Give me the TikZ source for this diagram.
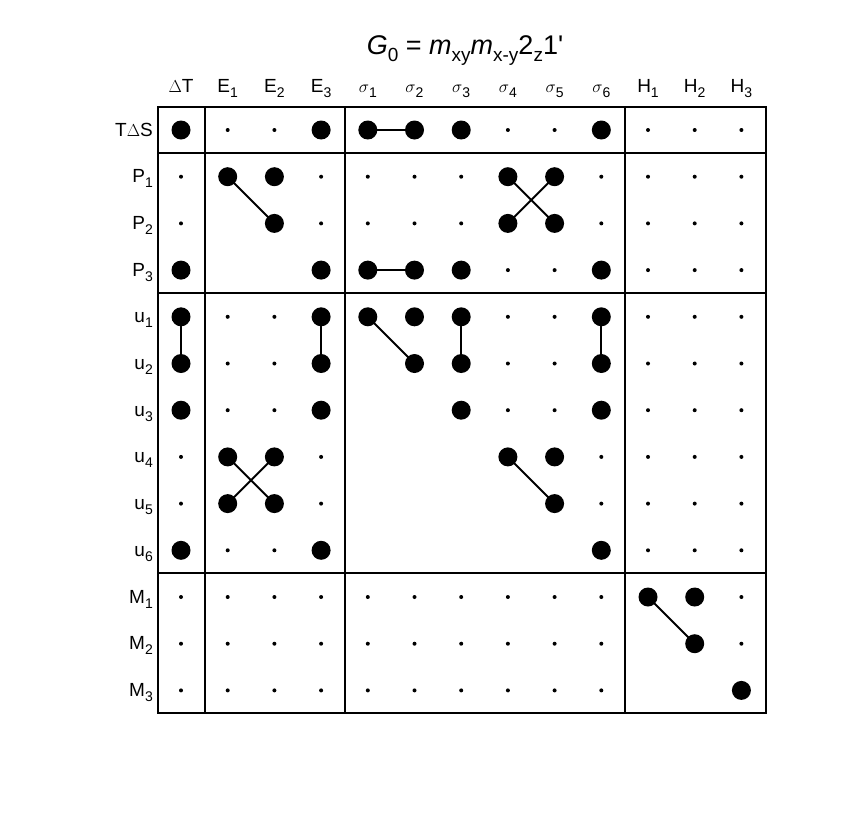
\documentclass[tikz,border=0pt]{standalone}
\usepackage{fontspec}
\setmainfont{Liberation Sans}
\newcommand{\sbx}[1]{\raisebox{-0.5ex}{\fontsize{14}{14}\selectfont #1}}
\newcommand{\sgm}[1]{$\sigma$\sbx{#1}}
\begin{document}
\begin{tikzpicture}[x=1pt,y=-1pt,
  big/.style={circle,fill=black,inner sep=0pt,minimum size=19pt},
  small/.style={circle,fill=black,inner sep=0pt,minimum size=4pt},
  lab/.style={font=\fontsize{19}{20}\selectfont,inner sep=0pt},
  conn/.style={line width=2pt},
  frame/.style={line width=2.5pt}]
\useasboundingbox (0,0) rectangle (856,812);
\node[font=\fontsize{27}{30}\selectfont,anchor=base] (title) at (465,54) {\textit{G}\raisebox{-0.5ex}{\fontsize{19}{19}\selectfont 0} = \textit{m}\raisebox{-0.5ex}{\fontsize{19}{19}\selectfont xy}\textit{m}\raisebox{-0.5ex}{\fontsize{19}{19}\selectfont x-y}2\raisebox{-0.5ex}{\fontsize{19}{19}\selectfont z}1\textquotesingle};
% grid coordinates
\foreach \r in {0,...,12}{\foreach \c in {0,...,12}{
  \coordinate (p-\r-\c) at ({181+46.7*\c},{130+46.7*\r});}}
% column labels
\foreach \t [count=\i from 0] in {$\Delta$T,E\sbx{1},E\sbx{2},E\sbx{3},\sgm{1},\sgm{2},\sgm{3},\sgm{4},\sgm{5},\sgm{6},H\sbx{1},H\sbx{2},H\sbx{3}}
  \node[lab,anchor=base] (col\i) at ({181+46.7*\i},92) {\t};
% row labels
\foreach \t [count=\i from 0] in {T$\Delta$S,P\sbx{1},P\sbx{2},P\sbx{3},u\sbx{1},u\sbx{2},u\sbx{3},u\sbx{4},u\sbx{5},u\sbx{6},M\sbx{1},M\sbx{2},M\sbx{3}}
  \node[lab,anchor=base east] (row\i) at (153,{136+46.7*\i}) {\t};
% frame
\draw[frame] (158,107) rectangle (766,713);
\draw[frame] (205,107) -- (205,713) (345,107) -- (345,713) (625,107) -- (625,713);
\draw[frame] (158,153) -- (766,153) (158,293) -- (766,293) (158,573) -- (766,573);
% connectors
\foreach \a/\b in {0-4/0-5,1-1/2-2,1-7/2-8,1-8/2-7,3-4/3-5,4-0/5-0,4-3/5-3,4-4/5-5,4-6/5-6,4-9/5-9,7-1/8-2,7-2/8-1,7-7/8-8,10-10/11-11}
  \draw[conn] (p-\a) -- (p-\b);
% dots
\foreach \row [count=\r from 0] in {
 {B,s,s,B,B,B,B,s,s,B,s,s,s},
 {s,B,B,s,s,s,s,B,B,s,s,s,s},
 {s,n,B,s,s,s,s,B,B,s,s,s,s},
 {B,n,n,B,B,B,B,s,s,B,s,s,s},
 {B,s,s,B,B,B,B,s,s,B,s,s,s},
 {B,s,s,B,n,B,B,s,s,B,s,s,s},
 {B,s,s,B,n,n,B,s,s,B,s,s,s},
 {s,B,B,s,n,n,n,B,B,s,s,s,s},
 {s,B,B,s,n,n,n,n,B,s,s,s,s},
 {B,s,s,B,n,n,n,n,n,B,s,s,s},
 {s,s,s,s,s,s,s,s,s,s,B,B,s},
 {s,s,s,s,s,s,s,s,s,s,n,B,s},
 {s,s,s,s,s,s,s,s,s,s,n,n,B}}{
 \foreach \v [count=\c from 0] in \row {
   \if\v B\node[big] (d-\r-\c) at (p-\r-\c) {};\fi
   \if\v s\node[small] (d-\r-\c) at (p-\r-\c) {};\fi
 }}
\end{tikzpicture}
\end{document}
